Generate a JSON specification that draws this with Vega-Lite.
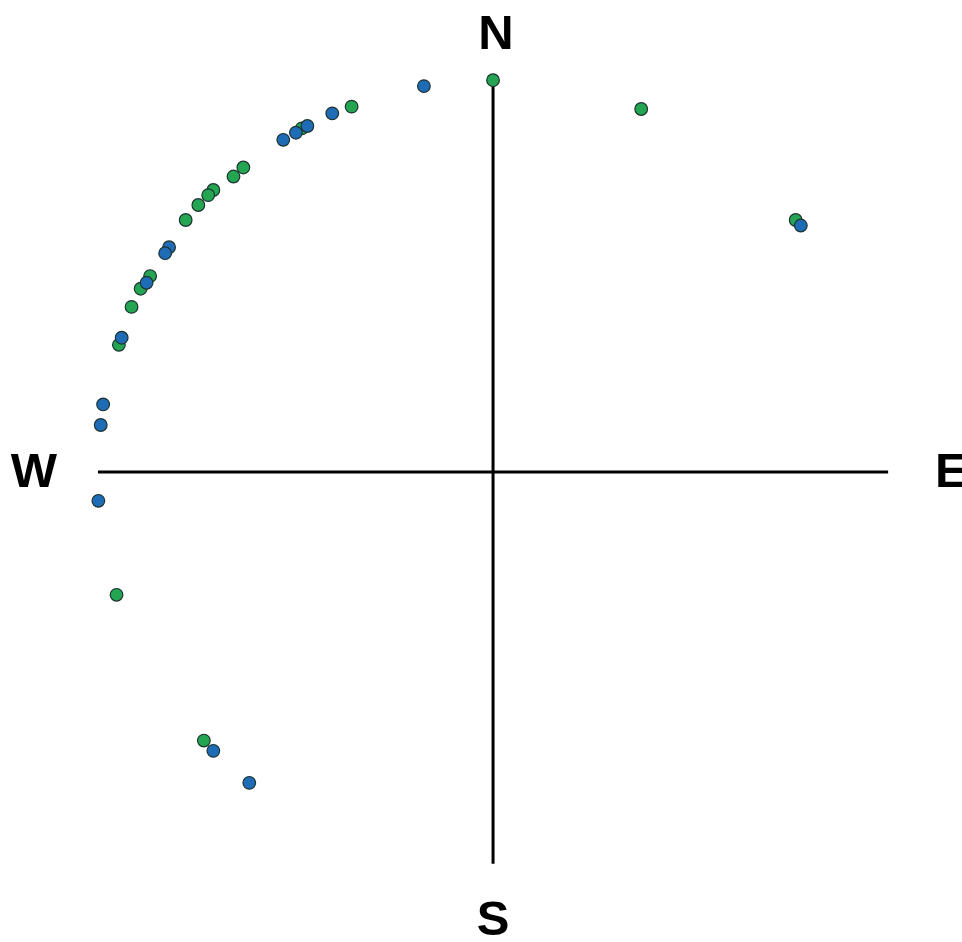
{
  "$schema": "https://vega.github.io/schema/vega-lite/v6.json",
  "width": 962,
  "height": 942,
  "autosize": {"type": "none"},
  "padding": 0,
  "background": "white",
  "config": {"view": {"stroke": null}},
  "datasets": {
    "points": [
      {"series": "A", "x": 0.0, "y": 0.992},
      {"series": "A", "x": 0.375, "y": 0.919},
      {"series": "A", "x": 0.766, "y": 0.638},
      {"series": "A", "x": -0.358, "y": 0.925},
      {"series": "A", "x": -0.484, "y": 0.870},
      {"series": "A", "x": -0.632, "y": 0.771},
      {"series": "A", "x": -0.657, "y": 0.748},
      {"series": "A", "x": -0.708, "y": 0.714},
      {"series": "A", "x": -0.721, "y": 0.701},
      {"series": "A", "x": -0.746, "y": 0.676},
      {"series": "A", "x": -0.778, "y": 0.638},
      {"series": "A", "x": -0.868, "y": 0.496},
      {"series": "A", "x": -0.892, "y": 0.464},
      {"series": "A", "x": -0.915, "y": 0.418},
      {"series": "A", "x": -0.947, "y": 0.322},
      {"series": "A", "x": -0.953, "y": -0.311},
      {"series": "A", "x": -0.732, "y": -0.680},
      {"series": "B", "x": -0.175, "y": 0.977},
      {"series": "B", "x": 0.779, "y": 0.624},
      {"series": "B", "x": -0.407, "y": 0.908},
      {"series": "B", "x": -0.470, "y": 0.876},
      {"series": "B", "x": -0.499, "y": 0.859},
      {"series": "B", "x": -0.531, "y": 0.841},
      {"series": "B", "x": -0.820, "y": 0.569},
      {"series": "B", "x": -0.830, "y": 0.554},
      {"series": "B", "x": -0.877, "y": 0.479},
      {"series": "B", "x": -0.940, "y": 0.340},
      {"series": "B", "x": -0.987, "y": 0.171},
      {"series": "B", "x": -0.993, "y": 0.119},
      {"series": "B", "x": -0.999, "y": -0.073},
      {"series": "B", "x": -0.708, "y": -0.706},
      {"series": "B", "x": -0.617, "y": -0.787}
    ],
    "labels": [
      {"label": "N", "x": 0.007, "y": 1.109},
      {"label": "S", "x": 0.0, "y": -1.134},
      {"label": "W", "x": -1.162, "y": 0.0},
      {"label": "E", "x": 1.160, "y": 0.0}
    ],
    "axes": [
      {"x": -1.0, "x2": 1.0, "y": 0.0, "y2": 0.0},
      {"x": 0.0, "x2": 0.0, "y": 0.992, "y2": -0.992}
    ]
  },
  "layer": [
    {
      "data": {"name": "axes"},
      "mark": {"type": "rule", "color": "black", "strokeWidth": 3},
      "encoding": {
        "x": {"field": "x", "type": "quantitative", "scale": {"domain": [-1.248, 1.187], "nice": false, "zero": false}, "axis": null},
        "x2": {"field": "x2"},
        "y": {"field": "y", "type": "quantitative", "scale": {"domain": [-1.190, 1.195], "nice": false, "zero": false}, "axis": null},
        "y2": {"field": "y2"}
      }
    },
    {
      "data": {"name": "points"},
      "mark": {"type": "point", "filled": true, "size": 160, "stroke": "#1c3330", "strokeWidth": 1.2, "opacity": 1},
      "encoding": {
        "x": {"field": "x", "type": "quantitative"},
        "y": {"field": "y", "type": "quantitative"},
        "fill": {"field": "series", "type": "nominal", "scale": {"domain": ["A", "B"], "range": ["#23a552", "#1f6cb6"]}, "legend": null}
      }
    },
    {
      "data": {"name": "labels"},
      "mark": {"type": "text", "font": "Liberation Sans", "fontWeight": "bold", "fontSize": 49, "color": "black", "align": "center", "baseline": "middle"},
      "encoding": {
        "x": {"field": "x", "type": "quantitative"},
        "y": {"field": "y", "type": "quantitative"},
        "text": {"field": "label"}
      }
    }
  ]
}
